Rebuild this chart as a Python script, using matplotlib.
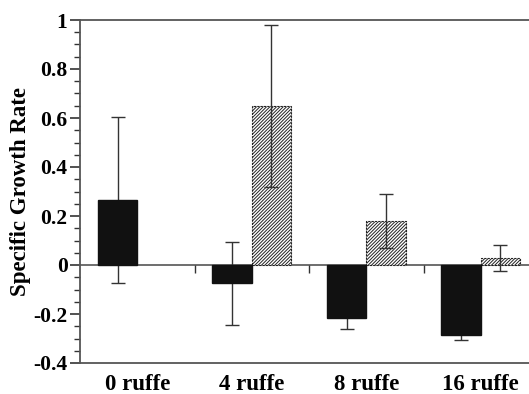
import numpy as np
import matplotlib.pyplot as plt
from matplotlib.ticker import MultipleLocator

groups = ['0 ruffe', '4 ruffe', '8 ruffe', '16 ruffe']
black_vals = [0.265, -0.075, -0.215, -0.285]
black_err = [0.34, 0.17, 0.045, 0.02]
hatch_vals = [np.nan, 0.65, 0.18, 0.03]
hatch_err = [np.nan, 0.33, 0.11, 0.053]

plt.rcParams['font.family'] = ['Liberation Serif', 'DejaVu Serif']
plt.rcParams['font.weight'] = 'bold'
plt.rcParams['hatch.linewidth'] = 0.7

fig = plt.figure(figsize=(5.29, 3.94), dpi=100)
ax = fig.add_axes([80 / 529, 1 - 363 / 394, 458 / 529, 343 / 394])

x = np.arange(len(groups))
w = 0.345
off = 0.172
line_col = '#333333'

ax.bar(x - off, black_vals, w, color='#111111', edgecolor='#111111', zorder=4)
ax.bar(x + off, hatch_vals, w, color='white', edgecolor='#222222',
       hatch='//////////', linewidth=0.8, linestyle=(0, (2, 1)), zorder=2)
ax.errorbar(x - off, black_vals, yerr=black_err, fmt='none', ecolor=line_col,
            elinewidth=1, capsize=5, capthick=1, zorder=3)
ax.errorbar(x + off, hatch_vals, yerr=hatch_err, fmt='none', ecolor=line_col,
            elinewidth=1, capsize=5, capthick=1, zorder=3)

# zero line with small ticks at group boundaries
ax.axhline(0, color='#555555', lw=1.2, zorder=1)
ax.vlines(x[1:] - 0.5, -0.032, 0, color='#333333', lw=1, zorder=1)

ax.set_xlim(-0.5, 3.5)
ax.set_ylim(-0.4, 1)
ax.yaxis.set_major_locator(MultipleLocator(0.2))
ax.yaxis.set_minor_locator(MultipleLocator(0.05))
ax.set_yticks([-0.4, -0.2, 0, 0.2, 0.4, 0.6, 0.8, 1])
ax.set_yticklabels(['-0.4', '-0.2', '0', '0.2', '0.4', '0.6', '0.8', '1'])
ax.set_xticks(x)
ax.set_xticklabels(groups)
ax.tick_params(axis='x', length=0, pad=8, labelsize=16.5)
ax.tick_params(axis='y', which='major', length=7, width=1.2, labelsize=15.5,
               direction='out', color='#333333', pad=2)
ax.tick_params(axis='y', which='minor', length=4.5, width=1, direction='out',
               color='#333333')

for s in ['left', 'top', 'bottom']:
    ax.spines[s].set_color('#555555')
    ax.spines[s].set_linewidth(1.3)
ax.spines['right'].set_visible(False)

ax.set_ylabel('Specific Growth Rate', fontsize=16.5, fontweight='bold', labelpad=2)

plt.savefig('out.png', dpi=100)
plt.close('all')
